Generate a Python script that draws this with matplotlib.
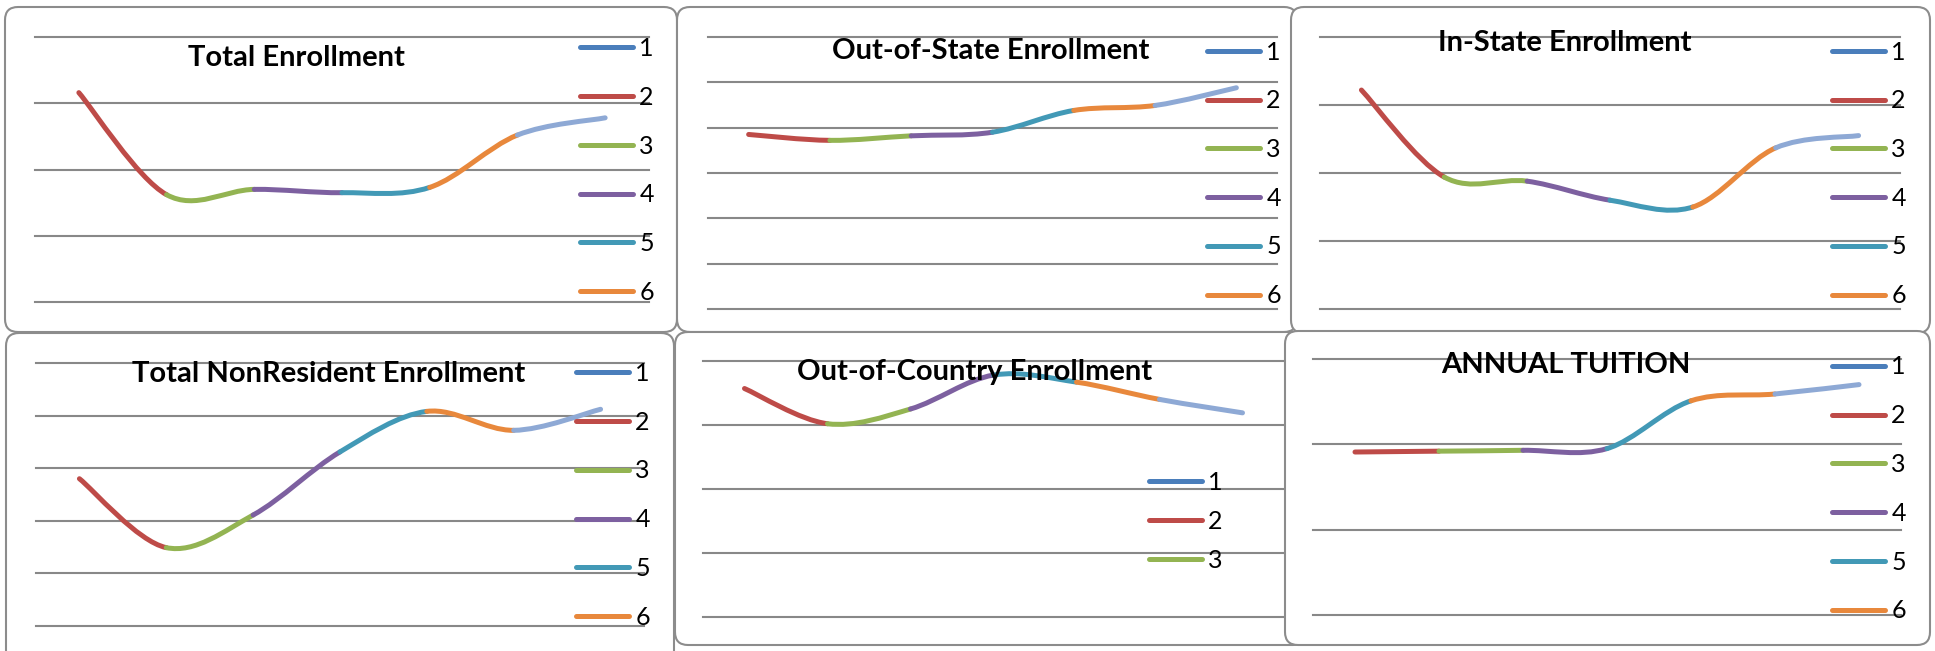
import numpy as np
import matplotlib
matplotlib.use("Agg")
import matplotlib.pyplot as plt
from matplotlib.path import Path
from matplotlib.patches import PathPatch, FancyBboxPatch
from matplotlib.lines import Line2D

W, H = 1935, 651

# values, in gridline units (bottom gridline = 0)
total_enrollment = [3.16, 1.62, 1.70, 1.65, 1.73, 2.52, 2.78]
out_of_state = [3.85, 3.72, 3.82, 3.90, 4.38, 4.49, 4.88]
in_state = [3.22, 1.94, 1.88, 1.60, 1.50, 2.37, 2.55]
nonresident = [2.80, 1.49, 2.11, 3.31, 4.08, 3.72, 4.12]
out_of_country = [3.57, 3.02, 3.25, 3.78, 3.67, 3.40, 3.19]
annual_tuition = [1.91, 1.92, 1.93, 1.95, 2.51, 2.59, 2.70]

titles = ["Total Enrollment", "Out-of-State Enrollment", "In-State Enrollment",
          "Total NonResident Enrollment", "Out-of-Country Enrollment", "ANNUAL TUITION"]
legend_labels = ["1", "2", "3", "4", "5", "6"]

legend_colors = ["#4A7EBB", "#BE4B48", "#93B452", "#7D60A0", "#4299B6", "#E8883C"]
seg_colors = ["#BE4B48", "#93B452", "#7D60A0", "#4299B6", "#E8883C", "#8EA9D5"]

plt.rcParams["font.family"] = ["Lato", "DejaVu Sans"]

fig = plt.figure(figsize=(W / 100, H / 100), dpi=100)


def fx(x):
    return x / W


def fy(y):
    return 1 - y / H


# panel layout in pixels: box, plot area (gridlines), number of grid steps,
# title position, legend anchor, legend spacing, number of legend rows
panels = [
    dict(data=total_enrollment, box=(5, 7, 677, 332), plot=(35, 37, 649, 302), n=4,
         title=(296, 66), leg=(580, 37), ls=1.03, rows=6),
    dict(data=out_of_state, box=(677, 7, 1297, 332), plot=(708, 37, 1277, 309), n=6,
         title=(991, 59), leg=(1207, 40.5), ls=1.03, rows=6),
    dict(data=in_state, box=(1291, 7, 1930, 333), plot=(1320, 37, 1900, 309), n=4,
         title=(1565, 51), leg=(1832, 40.5), ls=1.03, rows=6),
    dict(data=nonresident, box=(6, 333, 674, 665), plot=(36, 363, 644, 626), n=5,
         title=(329, 382), leg=(576, 362), ls=1.03, rows=6),
    dict(data=out_of_country, box=(675, 332, 1306, 645), plot=(703, 361, 1284, 617), n=4,
         title=(975, 380), leg=(1149, 471), ls=0.63, rows=3),
    dict(data=annual_tuition, box=(1285, 331, 1930, 645), plot=(1313, 359, 1901, 615), n=3,
         title=(1566, 373), leg=(1832, 355.5), ls=1.03, rows=6),
]


def smooth_segments(vals):
    # Excel-like smoothed line: one cubic Bezier per pair of points
    x = np.arange(len(vals), dtype=float)
    y = np.asarray(vals, dtype=float)
    pts = np.column_stack([x, y])
    segs = []
    for i in range(len(pts) - 1):
        p0 = pts[i - 1] if i > 0 else pts[i]
        p1, p2 = pts[i], pts[i + 1]
        p3 = pts[i + 2] if i + 2 < len(pts) else pts[i + 1]
        c1 = p1 + (p2 - p0) / 6
        c2 = p2 - (p3 - p1) / 6
        segs.append(Path([p1, c1, c2, p2],
                         [Path.MOVETO, Path.CURVE4, Path.CURVE4, Path.CURVE4]))
    return segs


for k, p in enumerate(panels):
    bx0, by0, bx1, by1 = p["box"]
    box = FancyBboxPatch((fx(bx0 + 13), fy(by1 - 13)), fx(bx1 - bx0 - 26), (by1 - by0 - 26) / H,
                         boxstyle="round,pad=%f" % (13 / W), transform=fig.transFigure,
                         facecolor="white", edgecolor="#8c8c8c", linewidth=1.5,
                         mutation_aspect=W / H, zorder=k * 3)
    fig.patches.append(box)

    x0, y0, x1, y1 = p["plot"]
    ax = fig.add_axes([fx(x0), fy(y1), fx(x1 - x0), (y1 - y0) / H], zorder=k * 3 + 1)
    ax.patch.set_visible(False)
    ax.set_xlim(-0.5, len(p["data"]) - 0.5)
    ax.set_ylim(0, p["n"])
    ax.set_yticks(range(p["n"] + 1))
    ax.set_xticks([])
    ax.yaxis.grid(True, color="#888888", linewidth=1.5)
    for gl in ax.get_ygridlines():
        gl.set_clip_on(False)
    ax.tick_params(left=False, labelleft=False)
    for s in ax.spines.values():
        s.set_visible(False)
    ax.set_axisbelow(True)

    for path, c in zip(smooth_segments(p["data"]), seg_colors):
        ax.add_patch(PathPatch(path, facecolor="none", edgecolor=c, linewidth=3.6,
                               capstyle="round", joinstyle="round", zorder=3))

    handles = [Line2D([], [], color=c, linewidth=3.6, solid_capstyle="round")
               for c in legend_colors[:p["rows"]]]
    leg = ax.legend(handles, legend_labels[:p["rows"]], loc="upper left",
                    bbox_to_anchor=(fx(p["leg"][0]), fy(p["leg"][1])),
                    bbox_transform=fig.transFigure, frameon=False, fontsize=18,
                    handlelength=2.12, handletextpad=0.25, borderpad=0,
                    borderaxespad=0, labelspacing=p["ls"])
    leg.set_zorder(5)

    fig.text(fx(p["title"][0]), fy(p["title"][1]), titles[k], ha="center", va="baseline",
             fontsize=21, fontweight="bold", color="black", zorder=k * 3 + 2)

fig.savefig("out.png", dpi=100)
